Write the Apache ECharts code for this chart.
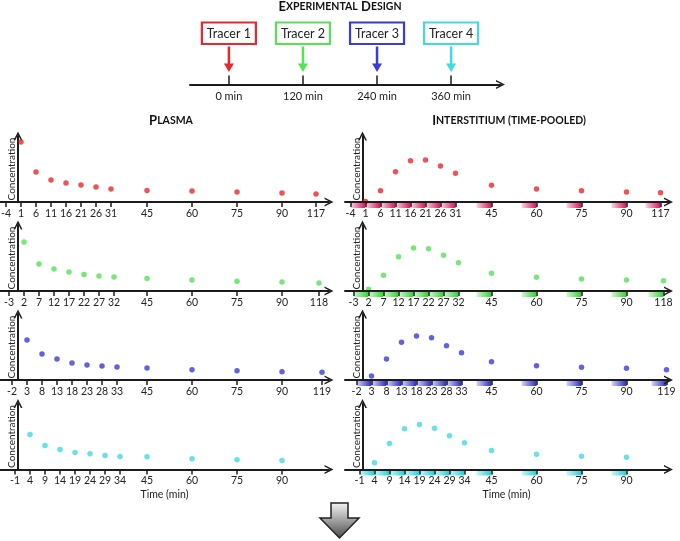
<!DOCTYPE html>
<html>
<head>
<meta charset="utf-8">
<title>Experimental design</title>
<script src="https://cdn.jsdelivr.net/npm/echarts@6/dist/echarts.min.js"></script>
<style>
  html, body { margin: 0; padding: 0; background: #fff; }
  #main { width: 680px; height: 541px; }
</style>
</head>
<body>
<div id="main"></div>
<script>
// tracer design (top timeline)
var tracerNames = ['Tracer 1', 'Tracer 2', 'Tracer 3', 'Tracer 4'];
var tracerTimes = [0, 120, 240, 360];
var designLabels = ['0 min', '120 min', '240 min', '360 min'];
var tracerColors = ['#e8282c', '#55e255', '#3b3bd6', '#3fdbe2'];
var poolLight = ['#fbd2e6', '#d2f7d2', '#d6d6f7', '#d0f6f7'];
var poolDark = ['#d8145a', '#2fd32f', '#2a2ac4', '#22cfd6'];

// sampling times (min) per tracer, first value is the pre-dose tick
var ticks1 = [-4, 1, 6, 11, 16, 21, 26, 31, 45, 60, 75, 90, 117];
var ticks2 = [-3, 2, 7, 12, 17, 22, 27, 32, 45, 60, 75, 90, 118];
var ticks3 = [-2, 3, 8, 13, 18, 23, 28, 33, 45, 60, 75, 90, 119];
var ticks4 = [-1, 4, 9, 14, 19, 24, 29, 34, 45, 60, 75, 90];

// concentration (arbitrary units), one value per sample after the pre-dose tick
var plasma1 = [60, 30, 22, 19, 17, 15, 13, 11.5, 11, 10, 9, 8];
var plasma2 = [49, 27, 22, 19, 16.5, 15, 14, 12.5, 11, 9.7, 9, 8];
var plasma3 = [40, 26, 21, 17, 15, 14, 13, 12, 10.3, 9.3, 8.3, 7.7];
var plasma4 = [35, 24, 20, 17, 15.7, 14, 13, 12.7, 10.7, 9.7, 9];

var inter1 = [0.5, 11.3, 30.3, 41.3, 42, 36, 28.7, 16.7, 13, 11.3, 10, 9.3];
var inter2 = [1.7, 15.7, 34.3, 43, 42.3, 35.7, 28.3, 17.7, 13.7, 12, 11, 10.3];
var inter3 = [4, 21, 37.7, 44, 42.3, 34.3, 27.3, 18.3, 14.3, 12.7, 11.7, 10.3];
var inter4 = [6.7, 26, 40.7, 45, 41.3, 33.7, 26.7, 19, 15.3, 13.3, 12.3];

var poolLength = 5; // minutes pooled per interstitial sample

var ticks = [ticks1, ticks2, ticks3, ticks4];
var plasma = [plasma1, plasma2, plasma3, plasma4];
var inter = [inter1, inter2, inter3, inter4];

var FONT = 'Lato';
var INK = '#1c1c1c';
var arrowPath = 'path://M0,10 L5,0 L10,10 L8.2,10 L5,3.6 L1.8,10 Z';

// layout
var axisY = [202, 291, 380, 469.5];
var panelH = 66;
var cols = [
    { left: 0, width: 329, max: 121.33 },
    { left: 344.5, width: 324, max: 119.67 }
];

var grids = [], xAxes = [], yAxes = [], series = [];

// top timeline
grids.push({ left: 190, top: 40, width: 310.5, height: 44.5, outerBoundsMode: 'none', containLabel: false });
xAxes.push({
    type: 'value', gridIndex: 0, min: -63, max: 440,
    axisLine: { lineStyle: { color: INK, width: 2 }, symbol: ['none', arrowPath], symbolSize: [9, 9] },
    axisTick: { customValues: tracerTimes, inside: true, length: 9, lineStyle: { color: INK, width: 1.5 } },
    axisLabel: {
        customValues: tracerTimes, margin: 6, fontSize: 11, color: '#222', fontFamily: FONT,
        formatter: function (v) { return designLabels[tracerTimes.indexOf(v)]; }
    },
    splitLine: { show: false }
});
yAxes.push({ type: 'value', gridIndex: 0, min: 0, max: 1, show: false });
series.push({
    type: 'custom', xAxisIndex: 0, yAxisIndex: 0,
    data: tracerTimes.map(function (t) { return [t, 0]; }),
    renderItem: function (params, api) {
        var i = params.dataIndex;
        var p = api.coord([api.value(0), 0]);
        var x = p[0], y = p[1];
        var c = tracerColors[i];
        return {
            type: 'group',
            children: [
                { type: 'rect', shape: { x: x - 27, y: y - 62, width: 54, height: 21.5 },
                  style: { fill: '#fff', stroke: c, lineWidth: 2.2 } },
                { type: 'text', x: x, y: y - 51,
                  style: { text: tracerNames[i], fill: '#222', font: '12.5px ' + FONT, align: 'center', verticalAlign: 'middle' } },
                { type: 'line', shape: { x1: x, y1: y - 38, x2: x, y2: y - 19 },
                  style: { stroke: c, lineWidth: 2.5 } },
                { type: 'polygon', shape: { points: [[x - 5, y - 21], [x + 5, y - 21], [x, y - 12.5]] },
                  style: { fill: c } }
            ]
        };
    }
});

function poolRender(k) {
    return function (params, api) {
        var a = api.coord([api.value(0), 0]);
        var b = api.coord([api.value(1), 0]);
        return {
            type: 'rect',
            shape: { x: a[0], y: a[1], width: b[0] - a[0], height: 6 },
            style: {
                fill: new echarts.graphic.LinearGradient(0, 0, 1, 0, [
                    { offset: 0, color: poolLight[k] },
                    { offset: 1, color: poolDark[k] }
                ])
            }
        };
    };
}

for (var r = 0; r < 4; r++) {
    for (var c = 0; c < 2; c++) {
        var col = cols[c];
        var g = grids.length;
        var tk = ticks[r];
        grids.push({ left: col.left, top: axisY[r] - panelH, width: col.width, height: panelH,
                     outerBoundsMode: 'none', containLabel: false });
        xAxes.push({
            type: 'value', gridIndex: g, min: -6, max: col.max, z: 5,
            breaks: [{ start: 36, end: 38, gap: 0 }, { start: 95, end: 110.67, gap: 0 }],
            breakArea: { show: false },
            axisLine: { onZero: false, lineStyle: { color: INK, width: 2 }, symbol: ['none', arrowPath], symbolSize: [9, 9] },
            axisTick: { customValues: tk, length: 5, lineStyle: { color: INK, width: 1.5 } },
            axisLabel: { customValues: tk, margin: 6, fontSize: 10.5, color: '#222', fontFamily: FONT },
            splitLine: { show: false },
            name: r === 3 ? 'Time (min)' : '',
            nameLocation: 'middle', nameGap: 20,
            nameTextStyle: { fontSize: 10.5, color: '#222', fontFamily: FONT }
        });
        yAxes.push({
            type: 'value', gridIndex: g, min: 0, max: panelH,
            axisLine: { show: true, onZero: true, lineStyle: { color: INK, width: 2 }, symbol: ['none', arrowPath], symbolSize: [9, 9] },
            axisTick: { show: false }, axisLabel: { show: false }, splitLine: { show: false },
            name: 'Concentration', nameLocation: 'middle', nameGap: -17,
            nameTextStyle: { fontSize: 10, color: '#222', fontFamily: FONT }
        });
        var vals = c === 0 ? plasma[r] : inter[r];
        if (c === 1) {
            series.push({
                type: 'custom', xAxisIndex: g, yAxisIndex: g, z: 1,
                data: tk.slice(1).map(function (t) { return [t - poolLength, t]; }),
                encode: { x: [0, 1] },
                renderItem: poolRender(r)
            });
        }
        series.push({
            type: 'scatter', xAxisIndex: g, yAxisIndex: g, z: 3,
            symbolSize: 5.5,
            itemStyle: { color: tracerColors[r] },
            data: tk.slice(1).map(function (t, i) { return [t, vals[i]]; })
        });
    }
}

var titleRich = {
    a: { fontSize: 13, fontWeight: 'bold', fontFamily: FONT, fill: '#111' },
    b: { fontSize: 10.5, fontWeight: 'bold', fontFamily: FONT, fill: '#111' }
};

var chart = echarts.init(document.getElementById('main'));
chart.setOption({
    animation: false,
    backgroundColor: '#fff',
    grid: grids,
    xAxis: xAxes,
    yAxis: yAxes,
    series: series,
    graphic: [
        { type: 'text', x: 340, y: 7,
          style: { text: '{a|E}{b|XPERIMENTAL} {a|D}{b|ESIGN}', rich: titleRich, align: 'center', verticalAlign: 'middle' } },
        { type: 'text', x: 171, y: 121,
          style: { text: '{a|P}{b|LASMA}', rich: titleRich, align: 'center', verticalAlign: 'middle' } },
        { type: 'text', x: 509, y: 121,
          style: { text: '{a|I}{b|NTERSTITIUM (TIME-POOLED)}', rich: titleRich, align: 'center', verticalAlign: 'middle' } },
        { type: 'polygon',
          shape: { points: [[331, 503], [348, 503], [348, 518], [359, 518], [339.5, 538], [320, 518], [331, 518]] },
          style: {
              fill: new echarts.graphic.LinearGradient(0, 0, 0, 1, [
                  { offset: 0, color: '#f6f6f6' }, { offset: 1, color: '#4a4a4a' }
              ]),
              stroke: '#222', lineWidth: 1.5
          } }
    ]
});
</script>
</body>
</html>
